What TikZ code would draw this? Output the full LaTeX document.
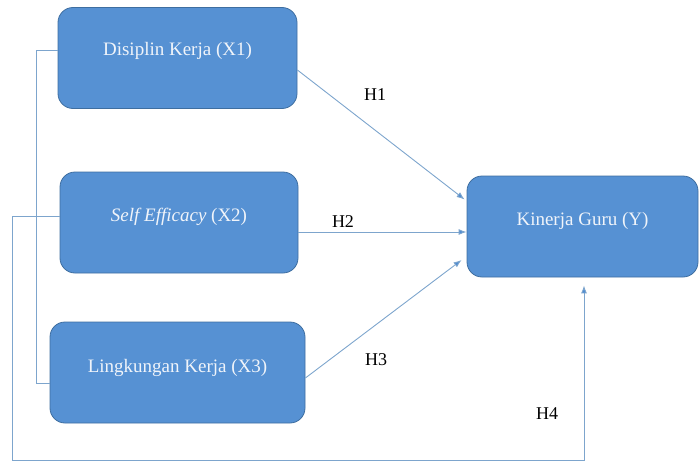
\documentclass[tikz,border=0pt]{standalone}
\usepackage{fontspec}
\setmainfont{Liberation Serif}
\usetikzlibrary{arrows.meta}
\definecolor{boxfill}{RGB}{86,145,211}
\definecolor{boxedge}{RGB}{62,110,160}
\definecolor{linec}{RGB}{125,165,205}
\definecolor{arrc}{RGB}{80,140,210}
\definecolor{boxtext}{RGB}{240,244,250}
\begin{document}
\begin{tikzpicture}[x=1pt,y=-1pt,
  box/.style={draw=boxedge, line width=0.8pt, fill=boxfill, rounded corners=15pt,
    minimum width=#1, minimum height=101pt, inner sep=0pt},
  boxtxt/.style={text=boxtext, font=\fontsize{19}{22}\selectfont, inner sep=0pt},
  hlbl/.style={text=black, font=\fontsize{18}{21}\selectfont, inner sep=0pt},
  conn/.style={draw=linec, line width=0.9pt},
  arr/.style={conn, -{Latex[length=8pt,width=6pt,fill=arrc]}}
]
\useasboundingbox (0,0) rectangle (699,463);

\node[box=239pt] (b1) at (177.5,58) {};
\node[box=238pt] (b2) at (179,222.5) {};
\node[box=255pt] (b3) at (177.5,372.5) {};
\node[box=231pt] (bY) at (582.5,226.5) {};

\node[boxtxt] (t1) at ([yshift=7pt]b1.center) {Disiplin Kerja (X1)};
\node[boxtxt] (t2) at ([yshift=6pt]b2.center) {\textit{Self Efficacy} (X2)};
\node[boxtxt] (t3) at ([yshift=5pt]b3.center) {Lingkungan Kerja (X3)};
\node[boxtxt] (tY) at ([yshift=6pt]bY.center) {Kinerja Guru (Y)};

% hypotheses arrows
\draw[arr] ([yshift=-12pt]b1.east) -- ([xshift=-2pt,yshift=27pt]bY.west);
\draw[arr] ([yshift=-9.5pt]b2.east) -- ([yshift=-5.5pt]bY.west);
\draw[arr] ([yshift=-5.5pt]b3.east) -- ([xshift=-5pt,yshift=-33.5pt]bY.west);

% left bracket
\coordinate (k1) at (36,50);
\coordinate (k3) at (36,383);
\coordinate (k2) at (12,216);
\coordinate (c1) at (12,460);
\coordinate (c2) at (584,460);
\draw[conn] ([yshift=8pt]b1.west) -- (k1) -- (k3) -- ([yshift=-10.5pt]b3.west);
\draw[conn] ([yshift=6.5pt]b2.west) -- (k2);
\draw[arr] (k2) -- (c1) -- (c2) -- ([xshift=1.5pt,yshift=-8pt]bY.south);

% labels
\node[hlbl] (h1) at (375,95) {H1};
\node[hlbl] (h2) at (343,222) {H2};
\node[hlbl] (h3) at (376,360) {H3};
\node[hlbl] (h4) at (547,414) {H4};
\end{tikzpicture}
\end{document}
